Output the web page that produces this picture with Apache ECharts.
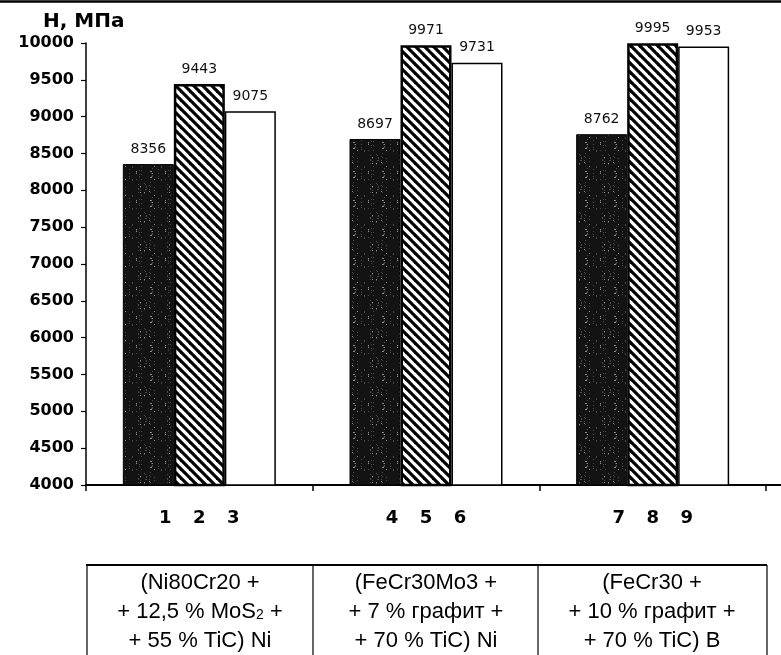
<!DOCTYPE html>
<html>
<head>
<meta charset="utf-8">
<script src="https://cdn.jsdelivr.net/npm/echarts@6/dist/echarts.min.js"></script>
<style>
html,body{margin:0;padding:0;background:#fff;}
#chart{width:781px;height:655px;}
</style>
</head>
<body>
<div id="chart"></div>
<script>
// ---- data ----
const categories = ['1 2 3', '4 5 6', '7 8 9'];
const seriesDark = [8356, 8697, 8762];
const seriesHatched = [9443, 9971, 9995];
const seriesWhite = [9075, 9731, 9953];
const yTicks = { min: 4000, max: 10000, interval: 500 };
const yTitle = 'H, MПа';
const tableLines = [
  ['(Ni80Cr20 +', '+ 12,5 % MoS{s|2} +', '+ 55 % TiC) Ni'],
  ['(FeCr30Mo3 +', '+ 7 % графит +', '+ 70 % TiC) Ni'],
  ['(FeCr30 +', '+ 10 % графит +', '+ 70 % TiC) B']
];

// ---- textures ----
function hatchPattern() {
  const s = 9, c = document.createElement('canvas');
  c.width = s; c.height = s;
  const g = c.getContext('2d');
  g.fillStyle = '#fff'; g.fillRect(0, 0, s, s);
  g.strokeStyle = '#000'; g.lineWidth = 3.2;
  [-s, 0, s].forEach(k => {
    g.beginPath(); g.moveTo(-s, -s + k); g.lineTo(2 * s, 2 * s + k); g.stroke();
  });
  return c;
}
function speckPattern() {
  const s = 29, c = document.createElement('canvas');
  c.width = s; c.height = s;
  const g = c.getContext('2d');
  g.fillStyle = '#131313'; g.fillRect(0, 0, s, s);
  for (let i = 0; i < 60; i++) {
    const x = (i * i * 7 + i * 13 + 5) % s, y = (i * 17 + (i * i) % 11 + 3) % s;
    g.fillStyle = i % 4 === 0 ? '#8a8a8a' : '#484848';
    g.fillRect(x, y, 1, 1);
  }
  return c;
}

const chart = echarts.init(document.getElementById('chart'), null, { renderer: 'canvas' });

const labelStyle = {
  show: true, position: 'top', distance: 8,
  fontFamily: 'DejaVu Sans', fontSize: 14, color: '#111'
};

const cellX = [200, 426, 652];
const tableGraphics = [];
tableLines.forEach((lines, i) => {
  tableGraphics.push({
    type: 'text', x: cellX[i], y: 568,
    style: {
      text: lines.map(l => '{n|' + l.replace('{s|2}', '}{s|2}{n|') + '}').join('\n'),
      align: 'center', verticalAlign: 'top',
      rich: {
        n: { fontFamily: 'Liberation Sans, Arial', fontSize: 22, lineHeight: 29, fill: '#000' },
        s: { fontFamily: 'Liberation Sans, Arial', fontSize: 14, lineHeight: 29, fill: '#000', padding: [8, 0, 0, 0] }
      }
    }
  });
});

const option = {
  animation: false,
  backgroundColor: '#fff',
  grid: { left: 86, right: 15, top: 43, bottom: 170 },
  xAxis: {
    type: 'category', data: categories,
    axisLine: { lineStyle: { color: '#000', width: 2 } },
    axisTick: { show: true, length: 6, lineStyle: { color: '#000', width: 1.5 } },
    axisLabel: {
      margin: 24,
      formatter: v => v.split(' ').map(d => '{d|' + d + '}').join(''),
      rich: { d: { width: 34, align: 'center', fontFamily: 'DejaVu Sans', fontWeight: 'bold', fontSize: 18, color: '#000' } }
    }
  },
  yAxis: {
    type: 'value', min: yTicks.min, max: yTicks.max, interval: yTicks.interval,
    axisLine: { show: true, lineStyle: { color: '#000', width: 1.5 } },
    axisTick: { show: true, length: 5, lineStyle: { color: '#000', width: 1.2 } },
    splitLine: { show: false },
    axisLabel: { margin: 12, fontFamily: 'DejaVu Sans', fontWeight: 'bold', fontSize: 16, color: '#000', formatter: v => String(v) }
  },
  graphic: [
    { type: 'line', shape: { x1: 0, y1: 1.5, x2: 781, y2: 1.5 }, style: { stroke: '#000', lineWidth: 2.5 } },
    { type: 'text', x: 43, y: 12, style: { text: yTitle, fontFamily: 'DejaVu Sans', fontWeight: 'bold', fontSize: 20, fill: '#000' } },
    { type: 'line', shape: { x1: 766, y1: 485, x2: 781, y2: 485 }, style: { stroke: '#000', lineWidth: 2 } },
    { type: 'line', shape: { x1: 86, y1: 565, x2: 767, y2: 565 }, style: { stroke: '#000', lineWidth: 2 } },
    { type: 'line', shape: { x1: 87, y1: 565, x2: 87, y2: 660 }, style: { stroke: '#000', lineWidth: 1.2 } },
    { type: 'line', shape: { x1: 313, y1: 565, x2: 313, y2: 660 }, style: { stroke: '#000', lineWidth: 1.2 } },
    { type: 'line', shape: { x1: 538, y1: 565, x2: 538, y2: 660 }, style: { stroke: '#000', lineWidth: 1.2 } },
    { type: 'line', shape: { x1: 767, y1: 565, x2: 767, y2: 660 }, style: { stroke: '#000', lineWidth: 1.2 } }
  ].concat(tableGraphics),
  series: [
    {
      type: 'bar', data: seriesDark, barWidth: 51, barGap: '0%',
      itemStyle: { color: { image: speckPattern(), repeat: 'repeat' }, borderColor: '#000', borderWidth: 1 },
      label: labelStyle
    },
    {
      type: 'bar', data: seriesHatched, barWidth: 51, barGap: '0%',
      itemStyle: { color: { image: hatchPattern(), repeat: 'repeat' }, borderColor: '#000', borderWidth: 2.5 },
      label: labelStyle
    },
    {
      type: 'bar', data: seriesWhite, barWidth: 51, barGap: '0%',
      itemStyle: { color: '#fff', borderColor: '#000', borderWidth: 1.5 },
      label: labelStyle
    }
  ]
};
chart.setOption(option);
</script>
</body>
</html>
